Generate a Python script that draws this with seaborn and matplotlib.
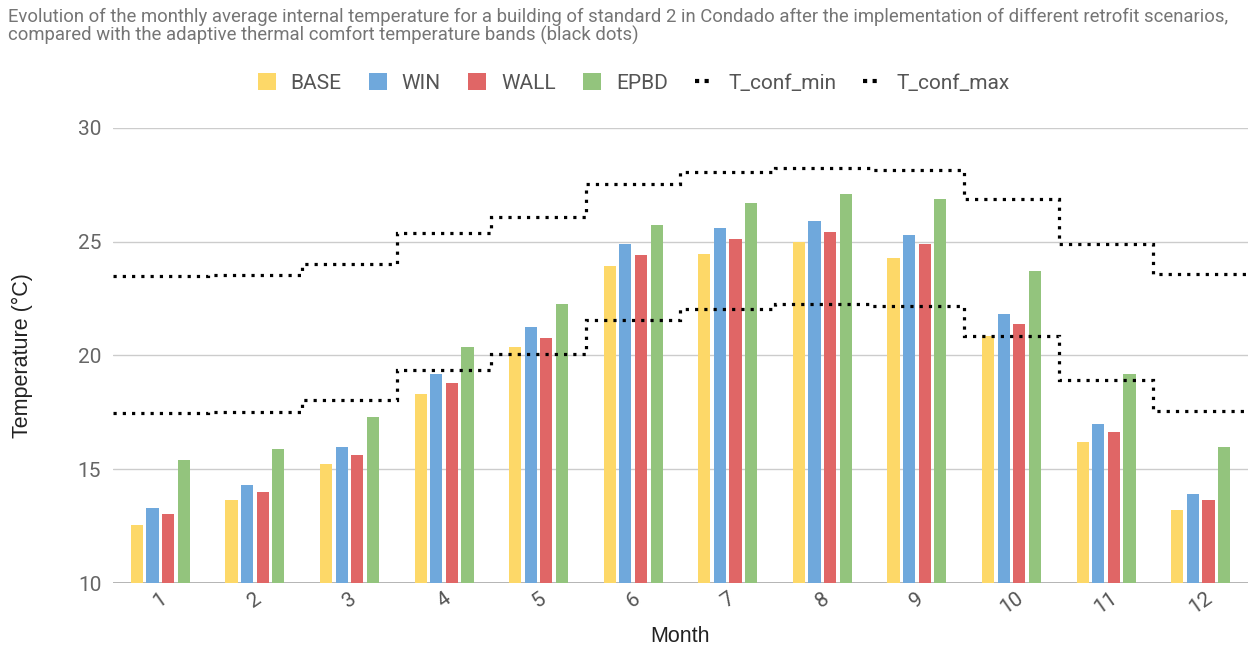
import numpy as np
import pandas as pd
import matplotlib
matplotlib.use("Agg")
import matplotlib.pyplot as plt
from matplotlib.patches import Patch
from matplotlib.lines import Line2D
import seaborn as sns

# Monthly average internal temperature (°C) per retrofit scenario
months = ["1", "2", "3", "4", "5", "6", "7", "8", "9", "10", "11", "12"]
base = [12.53, 13.63, 15.21, 18.31, 20.37, 23.95, 24.47, 24.97, 24.29, 20.84, 16.18, 13.22]
win = [13.30, 14.32, 15.96, 19.20, 21.25, 24.90, 25.59, 25.93, 25.31, 21.82, 17.00, 13.91]
wall = [13.03, 13.98, 15.62, 18.79, 20.77, 24.43, 25.10, 25.44, 24.91, 21.40, 16.65, 13.63]
epbd = [15.42, 15.90, 17.28, 20.37, 22.28, 25.72, 26.69, 27.10, 26.89, 23.73, 19.20, 15.96]

# Adaptive thermal comfort band limits
t_conf_min = [17.47, 17.52, 18.06, 19.38, 20.07, 21.54, 22.04, 22.25, 22.19, 20.87, 18.94, 17.57]
t_conf_max = [23.48, 23.53, 24.04, 25.37, 26.07, 27.55, 28.06, 28.24, 28.17, 26.88, 24.91, 23.58]

scenarios = ["BASE", "WIN", "WALL", "EPBD"]
colors = ["#FDD868", "#6FA8DC", "#E06666", "#93C47D"]
yticks = [10, 15, 20, 25, 30]

df = pd.DataFrame({
    "Month": months * 4,
    "Scenario": np.repeat(scenarios, len(months)),
    "Temperature": base + win + wall + epbd,
})

sns.set_theme(style="white")
plt.rcParams["font.family"] = ["Roboto", "DejaVu Sans"]

fig = plt.figure(figsize=(12.57, 6.46), dpi=100)
ax = fig.add_axes([0.0899, 0.0975, 0.9029, 0.7044])

sns.barplot(data=df, x="Month", y="Temperature", hue="Scenario",
            order=months, hue_order=scenarios, palette=colors,
            width=0.66, gap=0.22, saturation=1, ax=ax, legend=False,
            zorder=2, linewidth=0)

# Comfort band limits as month-wide steps
edges = np.arange(len(months) + 1) - 0.5
dot_style = dict(color="black", linewidth=2.3, linestyle=(0, (1, 1.9)),
                 zorder=3, baseline=None)
ax.stairs(t_conf_min, edges, **dot_style)
ax.stairs(t_conf_max, edges, **dot_style)

ax.set_xlim(-0.5, len(months) - 0.5)
ax.set_ylim(10, 30)
ax.set_yticks(yticks)
ax.set_yticklabels([str(v) for v in yticks])
ax.grid(axis="y", color="#cccccc", linewidth=1, zorder=0)
ax.set_axisbelow(True)
for s in ax.spines.values():
    s.set_visible(False)
ax.axhline(10, color="#aaaaaa", linewidth=1.2, zorder=1)

ax.tick_params(axis="y", length=0, labelsize=15, labelcolor="#666666", pad=8.5)
ax.tick_params(axis="x", length=0, labelsize=15, labelcolor="#555555", pad=4)
for lbl in ax.get_xticklabels():
    lbl.set_rotation(35)
    lbl.set_ha("center")

ax.set_xlabel("Month", fontsize=15.5, color="#222222",
              family=["Liberation Sans", "DejaVu Sans"])
ax.set_ylabel("Temperature (°C)", fontsize=15.5, color="#222222",
              family=["Liberation Sans", "DejaVu Sans"])
ax.xaxis.set_label_coords(0.5, -0.1165)
ax.xaxis.label.set_va("center")
ax.yaxis.set_label_coords(-0.080, 0.5)
ax.yaxis.label.set_va("center")

title_lines = [
    "Evolution of the monthly average internal temperature for a building of standard 2 in Condado "
    "after the implementation of different retrofit scenarios,",
    "compared with the adaptive thermal comfort temperature bands (black dots)",
]
for i, line in enumerate(title_lines):
    fig.text(0.006, 1 - (22 + 19 * i) / 646, line, ha="left", va="baseline",
             fontsize=13.3, color="#757575")

handles = [Patch(facecolor=c, edgecolor="none") for c in colors]
handles += [Line2D([], [], color="black", linewidth=3, linestyle=(0, (1, 1.3)))] * 2
labels = scenarios + ["T_conf_min", "T_conf_max"]
fig.legend(handles, labels, loc="center", bbox_to_anchor=(0.504, 0.872), ncol=6,
           frameon=False, fontsize=15, labelcolor="#555555", handlelength=0.87,
           handleheight=0.87, handletextpad=0.72, columnspacing=1.3)

fig.savefig("out.png", dpi=100)
